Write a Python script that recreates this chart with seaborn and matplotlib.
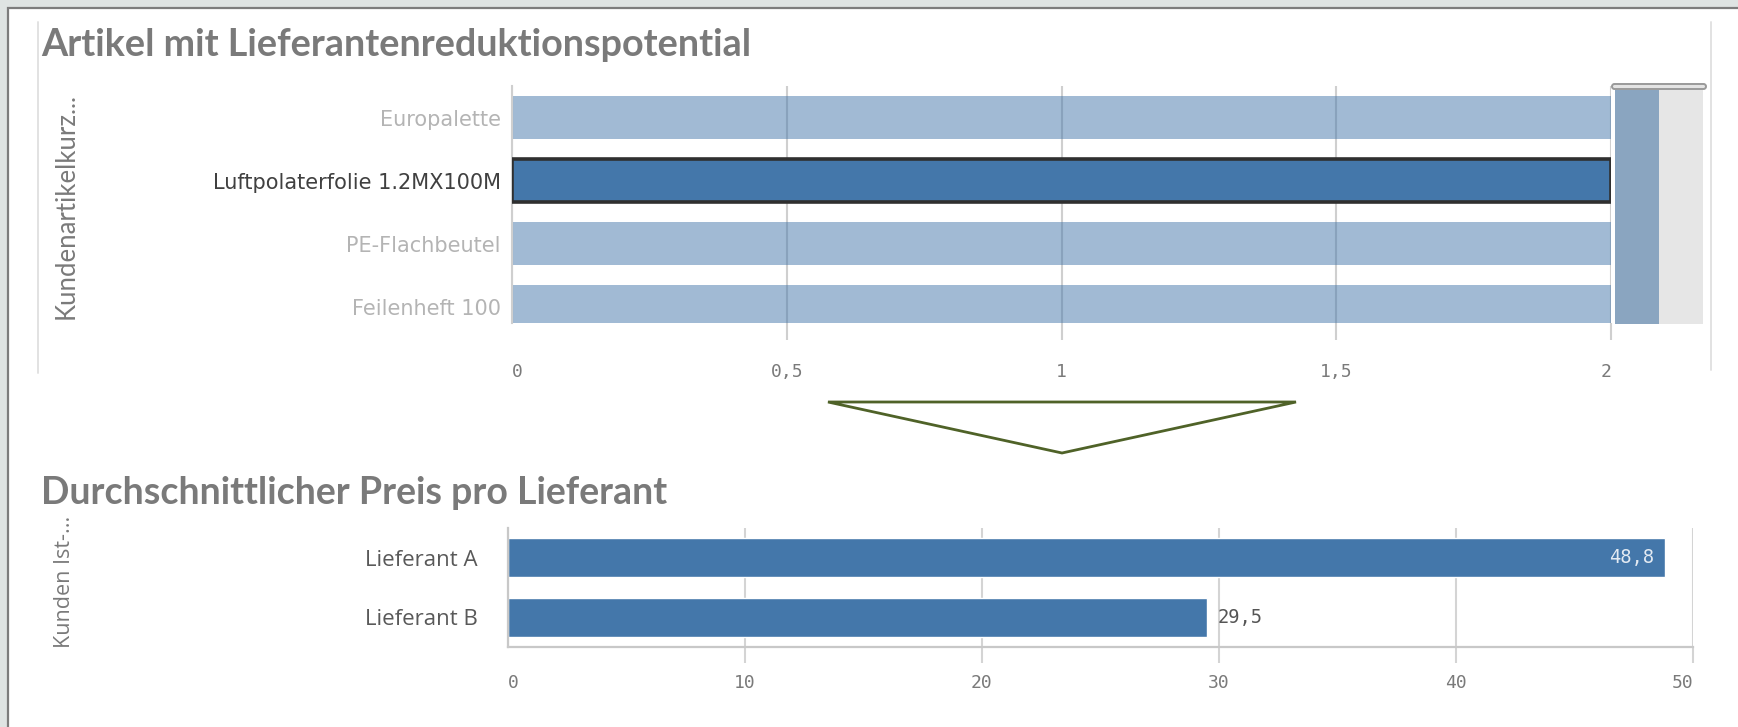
import matplotlib
matplotlib.use("Agg")
import matplotlib.pyplot as plt
import seaborn as sns
import pandas as pd
from matplotlib.patches import Rectangle, Polygon, FancyBboxPatch
from matplotlib.lines import Line2D
from matplotlib.transforms import Affine2D

# Upper chart: number of suppliers per customer article
artikel = ["Europalette", "Luftpolaterfolie 1.2MX100M", "PE-Flachbeutel", "Feilenheft 100"]
anzahl_lieferanten = [2, 2, 2, 2]
ausgewaehlt = "Luftpolaterfolie 1.2MX100M"
oben_ticks = [0, 0.5, 1, 1.5, 2]
oben_ticklabels = ["0", "0,5", "1", "1,5", "2"]

# Lower chart: average price per supplier for the selected article
lieferanten = ["Lieferant A", "Lieferant B"]
durchschnittspreis = [48.8, 29.5]
unten_ticks = [0, 10, 20, 30, 40, 50]
unten_ticklabels = ["0", "10", "20", "30", "40", "50"]

W, H = 1738, 727
BLAU = "#4477aa"
GRAU_TEXT = "#7a7a7a"
GITTER = "#cfcfcf"
MONO = "DejaVu Sans Mono"

sns.set_theme(style="white")
plt.rcParams["font.family"] = ["DejaVu Sans"]

fig = plt.figure(figsize=(W / 100, H / 100), dpi=100, facecolor="#dfe4e3")
# pixel coordinates measured from the top-left corner
pix = Affine2D().scale(1 / 100, -1 / 100).translate(0, H / 100) + fig.dpi_scale_trans


def box(l, t, r, b):
    return [l / W, 1 - b / H, (r - l) / W, (b - t) / H]


# white sheet with dark frame
fig.add_artist(Rectangle((8, 8), 1800, 800, transform=pix, facecolor="white",
                         edgecolor="#7d7d7d", lw=1.6, zorder=-10))
# faint frame of the upper object
for x, y0, y1 in [(38, 22, 373), (1711, 22, 370)]:
    fig.add_artist(Line2D([x, x], [y0, y1], transform=pix, color="#e2e2e2", lw=1.4, zorder=-5))

# ---------------- upper chart ----------------
ax1 = fig.add_axes(box(512, 86, 1611, 323))
df1 = pd.DataFrame({"Artikel": artikel, "Lieferanten": anzahl_lieferanten})
sns.barplot(data=df1, x="Lieferanten", y="Artikel", hue="Artikel", orient="h",
            palette=[BLAU] * len(artikel), saturation=1, width=0.68, legend=False, ax=ax1)
for cont, name in zip(ax1.containers, artikel):
    for bar in cont:
        if name == ausgewaehlt:
            bar.set_edgecolor("#2f2f2f")
            bar.set_linewidth(2.6)
            bar.set_zorder(3)
        else:
            bar.set_alpha(0.5)
            bar.set_linewidth(0)

ax1.set_xlim(0, 2)
ax1.set_ylim(3.26, -0.5)
ax1.set_xticks(oben_ticks)
ax1.set_xticklabels(oben_ticklabels, fontfamily=MONO)
ax1.grid(axis="x", color=GITTER, lw=1.5)
ax1.set_axisbelow(True)
for s in ["top", "right", "bottom"]:
    ax1.spines[s].set_visible(False)
ax1.spines["left"].set_color(GITTER)
ax1.spines["left"].set_linewidth(1.5)
ax1.tick_params(axis="x", bottom=True, length=12, width=1.5, color=GITTER, pad=17,
                labelsize=13, labelcolor=GRAU_TEXT)
ax1.xaxis.get_major_ticks()[0].tick1line.set_visible(False)
xl = ax1.get_xticklabels()
xl[0].set_ha("left")
xl[-1].set_ha("right")
ax1.tick_params(axis="y", length=0, pad=8, labelsize=15)
for lab in ax1.get_yticklabels():
    lab.set_color("#404040" if lab.get_text() == ausgewaehlt else "#b4b4b4")
ax1.set_xlabel("")
ax1.set_ylabel("Kundenartikelkurz...", fontsize=18.5, color=GRAU_TEXT, fontfamily="Lato")
ax1.yaxis.label.set_va("center")
ax1.yaxis.set_label_coords(66 / W, 1 - 206 / H, transform=fig.transFigure)

# mini scrollbar next to the upper chart
axm = fig.add_axes(box(1615, 90, 1703, 324), facecolor="#e6e6e6")
sns.barplot(data=df1, x="Lieferanten", y="Artikel", orient="h", color="#8aa5c0",
            saturation=1, width=1.0, linewidth=0, ax=axm)
for bar in axm.patches:
    bar.set_linewidth(0)
axm.set_xlim(0, 4)
axm.set_ylim(3.5, -0.5)
axm.set_xticks([])
axm.set_yticks([])
axm.set_xlabel("")
axm.set_ylabel("")
for s in axm.spines.values():
    s.set_visible(False)
fig.add_artist(FancyBboxPatch((1612, 84), 94, 5, boxstyle="round,pad=0,rounding_size=2.5",
                              transform=pix, facecolor="#e4e4e4", edgecolor="#9a9a9a", lw=1.4))

# drill-down arrow between the charts
fig.add_artist(Polygon([(828, 402), (1296, 402), (1062, 453)], closed=True, fill=False,
                       edgecolor="#4f6228", lw=2.0, transform=pix))

# ---------------- lower chart ----------------
ax2 = fig.add_axes(box(508, 528, 1693, 647))
df2 = pd.DataFrame({"Lieferant": lieferanten, "Preis": durchschnittspreis})
sns.barplot(data=df2, x="Preis", y="Lieferant", orient="h", color=BLAU, saturation=1,
            width=0.655, ax=ax2)
ax2.set_xlim(0, 50)
ax2.set_ylim(1.5, -0.5)
ax2.set_xticks(unten_ticks)
ax2.set_xticklabels(unten_ticklabels, fontfamily=MONO)
ax2.grid(axis="x", color="#d4d4d4", lw=1.5)
ax2.set_axisbelow(True)
for s in ["top", "right"]:
    ax2.spines[s].set_visible(False)
for s in ["left", "bottom"]:
    ax2.spines[s].set_color("#c8c8c8")
    ax2.spines[s].set_linewidth(1.6)
ax2.tick_params(axis="x", bottom=True, length=11.5, width=1.5, color="#d4d4d4", pad=8,
                labelsize=13, labelcolor=GRAU_TEXT)
ax2.xaxis.get_major_ticks()[0].tick1line.set_visible(False)
xl2 = ax2.get_xticklabels()
xl2[0].set_ha("left")
xl2[-1].set_ha("right")
ax2.tick_params(axis="y", length=0, pad=22, labelsize=16, labelcolor="#595959")
for lab in ax2.get_yticklabels():
    lab.set_fontfamily("Open Sans")
ax2.set_xlabel("")
ax2.set_ylabel("Kunden Ist-...", fontsize=15.5, color=GRAU_TEXT, fontfamily="Open Sans")
ax2.yaxis.label.set_va("center")
ax2.yaxis.set_label_coords(65 / W, 1 - 582 / H, transform=fig.transFigure)

for i, v in enumerate(durchschnittspreis):
    txt = f"{v:.1f}".replace(".", ",")
    if v > 0.9 * ax2.get_xlim()[1]:
        ax2.text(v - 0.45, i, txt, ha="right", va="center", color="#e3eaf2",
                 fontsize=13.5, fontfamily=MONO)
    else:
        ax2.text(v + 0.45, i, txt, ha="left", va="center", color="#555555",
                 fontsize=13.5, fontfamily=MONO)

# titles
fig.text(41 / W, 1 - 56 / H, "Artikel mit Lieferantenreduktionspotential", fontsize=27.2,
         fontweight="bold", color=GRAU_TEXT, fontfamily="Lato", va="baseline")
fig.text(41 / W, 1 - 504 / H, "Durchschnittlicher Preis pro Lieferant", fontsize=27,
         fontweight="bold", color=GRAU_TEXT, fontfamily="Lato", va="baseline")

fig.savefig("out.png", dpi=100, facecolor=fig.get_facecolor())
